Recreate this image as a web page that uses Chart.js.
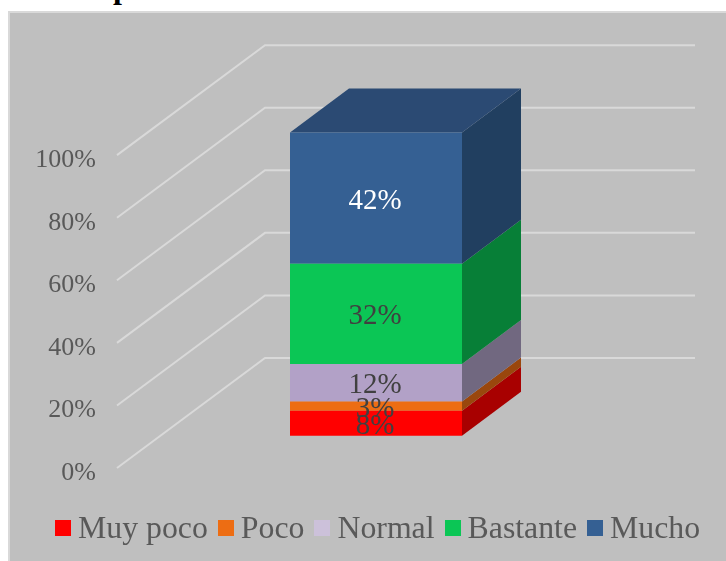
<!DOCTYPE html>
<html>
<head>
<meta charset="utf-8">
<style>
  html,body{margin:0;padding:0;background:#fff;overflow:hidden;}
  #wrap{position:relative;width:726px;height:561px;overflow:hidden;font-family:"Liberation Serif",serif;}
  #title{position:absolute;left:36px;top:-29px;font-weight:bold;font-size:32px;letter-spacing:1px;line-height:32px;color:#000;white-space:nowrap;}
  #panel{position:absolute;left:8px;top:11px;width:730px;height:560px;box-sizing:border-box;background:#bfbfbf;border:2px solid #d9d9d9;}
  #chart{position:absolute;left:0;top:0;}
  #legend{position:absolute;left:55px;top:506px;display:flex;font-size:31.8px;line-height:44px;color:#595959;white-space:nowrap;}
  #legend span.item{display:flex;align-items:center;margin-right:10px;}
  #legend i{display:block;width:16px;height:16px;margin-right:7px;}
</style>
</head>
<body>
<div id="wrap">
  <div id="title">Base por rasuera</div>
  <div id="panel"></div>
  <canvas id="chart" width="726" height="561"></canvas>
  <div id="legend"></div>
</div>
<script src="https://cdn.jsdelivr.net/npm/chart.js@4/dist/chart.umd.min.js"></script>
<script>
const categories = ['Base'];
const seriesNames = ['Muy poco','Poco','Normal','Bastante','Mucho'];
const seriesValues = [8,3,12,32,42];
const frontColors = ['#ff0000','#ed6d13','#b2a1c7','#0bc655','#356093'];
const sideColors = ['#a80000','#9a470d','#716880','#077f37','#213f60'];
const legendColors = ['#ff0000','#ed6d13','#ccc1da','#0bc655','#356093'];
const labelColors = ['#404040','#404040','#404040','#404040','#ffffff'];
const tickValues = [0,20,40,60,80,100];

// depth of the fake 3d box
const wallDx = 148, wallDy = 110, wallRight = 695;
const barDx = 59, barDy = 44;

function poly(ctx, pts, color){
  ctx.fillStyle = color;
  ctx.beginPath();
  pts.forEach((p,i)=> i ? ctx.lineTo(p[0],p[1]) : ctx.moveTo(p[0],p[1]));
  ctx.closePath();
  ctx.fill();
}

const box3d = {
  id:'box3d',
  beforeDatasetsDraw(chart){
    const ctx = chart.ctx, y = chart.scales.y, left = chart.chartArea.left;
    ctx.save();
    ctx.strokeStyle = '#d9d9d9';
    ctx.lineWidth = 2;
    tickValues.forEach(v=>{
      const py = y.getPixelForValue(v);
      ctx.beginPath();
      ctx.moveTo(left, py);
      ctx.lineTo(left+wallDx, py-wallDy);
      ctx.lineTo(wallRight, py-wallDy);
      ctx.stroke();
    });
    chart.data.datasets.forEach((d,i)=>{
      const el = chart.getDatasetMeta(i).data[0];
      const r = el.x+el.width/2, l = el.x-el.width/2;
      poly(ctx, [[r,el.y],[r+barDx,el.y-barDy],[r+barDx,el.base-barDy],[r,el.base]], sideColors[i]);
      if(i === chart.data.datasets.length-1){
        poly(ctx, [[l,el.y],[l+barDx,el.y-barDy],[r+barDx,el.y-barDy],[r,el.y]], '#2b4a73');
      }
    });
    ctx.restore();
  },
  afterDatasetsDraw(chart){
    const ctx = chart.ctx;
    ctx.save();
    ctx.font = '29px "Liberation Serif", serif';
    ctx.textAlign = 'center';
    ctx.textBaseline = 'middle';
    chart.data.datasets.forEach((d,i)=>{
      const el = chart.getDatasetMeta(i).data[0];
      ctx.fillStyle = labelColors[i];
      ctx.fillText(d.data[0]+'%', el.x-1, (el.y+el.base)/2+3);
    });
    ctx.restore();
  }
};

new Chart(document.getElementById('chart'), {
  type:'bar',
  data:{
    labels:categories,
    datasets:seriesNames.map((name,i)=>({
      label:name,
      data:[seriesValues[i]],
      backgroundColor:frontColors[i],
      yAxisID:'yBar',
      barPercentage:172/518,
      categoryPercentage:1
    }))
  },
  options:{
    responsive:false,
    animation:false,
    layout:{padding:{top:30,bottom:93,right:91,left:0}},
    plugins:{legend:{display:false},tooltip:{enabled:false},title:{display:false}},
    scales:{
      x:{stacked:true,display:false},
      // front plane of the walls, carries the tick labels
      y:{
        position:'left',min:0,max:140,
        grid:{display:false},border:{display:false},
        ticks:{stepSize:20,padding:13,labelOffset:5,color:'#595959',font:{family:'"Liberation Serif", serif',size:26},callback:v=>v+'%'},
        afterBuildTicks(s){ s.ticks = tickValues.map(v=>({value:v})); },
        afterFit(s){ s.width = 117; }
      },
      // same px per unit as y, but the bar stands further in so zero sits higher
      yBar:{stacked:true,display:false,min:-10.27,max:129.73}
    }
  },
  plugins:[box3d]
});

document.getElementById('legend').innerHTML = seriesNames.map((n,i)=>
  `<span class="item"><i style="background:${legendColors[i]}"></i>${n}</span>`).join('');
</script>
</body>
</html>
